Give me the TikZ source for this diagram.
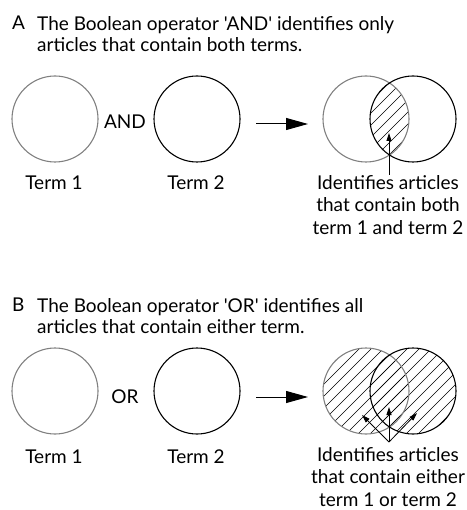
\documentclass[tikz,border=0pt]{standalone}
\usepackage{fontspec}
\setmainfont{Lato}[Ligatures=TeXOff]
\usetikzlibrary{positioning,arrows.meta,calc}

\tikzset{
  termcirc/.style={circle, draw, line width=1.1pt, minimum size=86pt, inner sep=0pt},
  hatch/.style={line width=0.6pt},
  bigarrow/.style={line width=1pt, -{Triangle[length=22pt,width=12pt]}},
  smallarrow/.style={line width=0.8pt, -{Triangle[length=8pt,width=5pt]}},
  headline/.style={anchor=west, align=left, inner sep=0pt, font=\fontsize{19}{21.5}\selectfont},
  notetext/.style={align=center, inner sep=0pt, font=\fontsize{19}{22.5}\selectfont}
}

\begin{document}
\begin{tikzpicture}[x=1pt, y=-1pt, font=\fontsize{19}{21}\selectfont]
  \useasboundingbox (0,0) rectangle (466,510);

  % --- A: AND ---
  \node[anchor=west, inner sep=0pt] (letA) at (12,23) {A};
  \node[headline] (headA) at (37,34) {The Boolean operator 'AND' identifies only\\articles that contain both terms.};

  \coordinate (ag) at (366,119);
  \coordinate (ab) at (413,119);
  \begin{scope}
    \clip (ag) circle (43);
    \clip (ab) circle (43);
    \foreach \i in {-8,...,8}
      \draw[hatch] ($(ab)+(\i*12,0)$) ++(-60,60) -- ++(120,-120);
  \end{scope}

  \node[termcirc, draw=gray] (a1) at (55,119) {};
  \node (andop) at (125,122) {AND};
  \node[termcirc] (a2) at (197,119) {};
  \node[termcirc, draw=gray] (avg) at (ag) {};
  \node[termcirc] (avb) at (ab) {};
  \node (a1lab) at (54,183) {Term 1};
  \node (a2lab) at (196,183) {Term 2};
  \node[notetext, anchor=north] (anote) at (388,175) {Identifies articles\\that contain both\\term 1 and term 2};

  \coordinate (aarrs) at (256,124);
  \coordinate (aarre) at (308,124);
  \coordinate (atip) at (389,133);
  \draw[bigarrow] (aarrs) -- (aarre);
  \draw[smallarrow] (anote.north -| atip) -- (atip);

  % --- B: OR ---
  \node[anchor=west, inner sep=0pt] (letB) at (12,305) {B};
  \node[headline] (headB) at (37,316) {The Boolean operator 'OR' identifies all\\articles that contain either term.};

  \coordinate (bg) at (366,391);
  \coordinate (bb) at (413,391);
  \begin{scope}
    \clip (bg) circle (43);
    \foreach \i in {-12,...,8}
      \draw[hatch] ($(bb)+(\i*12,0)$) ++(-60,60) -- ++(120,-120);
  \end{scope}
  \begin{scope}
    \clip (bb) circle (43);
    \foreach \i in {-12,...,8}
      \draw[hatch] ($(bb)+(\i*12,0)$) ++(-60,60) -- ++(120,-120);
  \end{scope}

  \node[termcirc, draw=gray] (b1) at (55,391) {};
  \node (orop) at (125,397) {OR};
  \node[termcirc] (b2) at (197,391) {};
  \node[termcirc, draw=gray] (bvg) at (bg) {};
  \node[termcirc] (bvb) at (bb) {};
  \node (b1lab) at (54,457) {Term 1};
  \node (b2lab) at (196,457) {Term 2};
  \node[notetext, anchor=north] (bnote) at (388,447) {Identifies articles\\that contain either\\term 1 or term 2};

  \coordinate (barrs) at (256,397);
  \coordinate (barre) at (308,397);
  \coordinate (bfoot) at (389,442);
  \coordinate (btipl) at (362,415);
  \coordinate (btipm) at (389,407);
  \coordinate (btipr) at (417,413);
  \draw[bigarrow] (barrs) -- (barre);
  \draw[smallarrow] (bfoot) -- (btipl);
  \draw[smallarrow] (bfoot) -- (btipm);
  \draw[smallarrow] (bfoot) -- (btipr);
\end{tikzpicture}
\end{document}
